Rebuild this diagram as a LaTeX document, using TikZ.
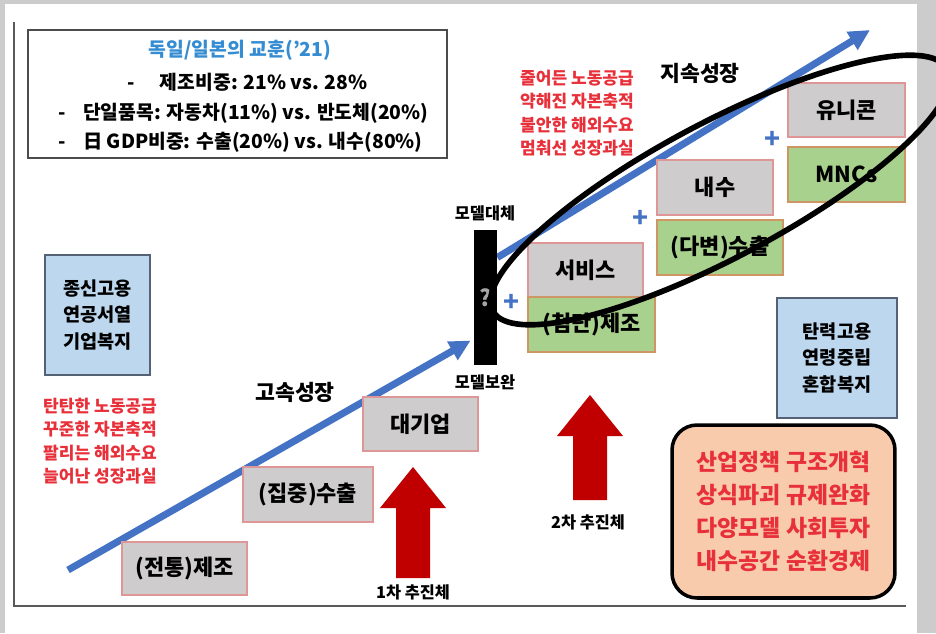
\documentclass[tikz,border=0pt]{standalone}
\usepackage{fontspec}
\setmainfont{Noto Sans CJK KR}
\usetikzlibrary{arrows.meta,calc}

\definecolor{growthblue}{RGB}{68,114,196}
\definecolor{boxgray}{RGB}{206,204,204}
\definecolor{boxpink}{RGB}{222,150,150}
\definecolor{boxgreen}{RGB}{169,209,142}
\definecolor{greenedge}{RGB}{205,150,100}
\definecolor{skyfill}{RGB}{189,215,238}
\definecolor{skyedge}{RGB}{85,98,118}
\definecolor{lessonred}{RGB}{232,48,58}
\definecolor{titleblue}{RGB}{52,140,210}
\definecolor{policyfill}{RGB}{248,203,173}
\definecolor{pushred}{RGB}{192,0,0}

\tikzset{
  stage/.style={draw=boxpink, line width=1.2pt, minimum width=2.3cm, minimum height=1.08cm,
    inner sep=0pt, font=\fontsize{12.5}{14}\selectfont\bfseries},
  graybox/.style={stage, fill=boxgray},
  greenbox/.style={stage, fill=boxgreen, draw=greenedge},
  welfare/.style={draw=skyedge, fill=skyfill, line width=1.2pt, minimum height=2.4cm,
    align=center, font=\fontsize{10.6}{15}\selectfont\bfseries},
  redlist/.style={text=lessonred, align=center, font=\fontsize{9.7}{13.4}\selectfont\bfseries},
  infoline/.style={font=\fontsize{11}{13}\selectfont\bfseries, inner sep=0pt},
  phase/.style={font=\fontsize{12.3}{14}\selectfont\bfseries},
  smalllbl/.style={font=\fontsize{9.3}{11}\selectfont\bfseries},
  plussign/.style={text=growthblue, font=\fontsize{15}{15}\selectfont\bfseries, inner sep=0pt},
  growth/.style={growthblue, line width=4pt, -{Triangle[length=0.42cm, width=0.4cm]}},
  loopline/.style={black, line width=3.2pt},
}

\def\pusharrow(#1,#2,#3){\fill[pushred] (#1,#2) -- (#1+33,#2+41) -- (#1+17,#2+41) -- (#1+17,#3) -- (#1-17,#3) -- (#1-17,#2+41) -- (#1-33,#2+41) -- cycle;}

\begin{document}
\begin{tikzpicture}[x=0.02cm, y=-0.02cm]
  \useasboundingbox (0,0) rectangle (936,633);

  % backdrop and frame
  \fill[gray!40] (0,0) rectangle (936,633);
  \fill[white] (5,4) rectangle (917,633);
  \draw[black!65, line width=1.2pt] (14,22) -- (14,606) -- (906,606);

  % lessons
  \node[draw=black!70, line width=1.2pt, minimum width=8.38cm, minimum height=2.56cm] (lesson) at (237.5,94) {};
  \node[infoline, text=titleblue] (ttl) at (240,50) {독일/일본의 교훈('21)};
  \node[infoline, anchor=west] (ln1) at (127,82) {-\hspace{1.3em}제조비중: 21\% vs. 28\%};
  \node[infoline, anchor=west] (ln2) at (58,113) {-\hspace{0.9em}단일품목: 자동차(11\%) vs. 반도체(20\%)};
  \node[infoline, anchor=west] (ln3) at (58,142) {-\hspace{0.9em}日 GDP비중: 수출(20\%) vs. 내수(80\%)};

  % welfare boxes and conditions
  \node[welfare, minimum width=2.1cm] (oldw) at (97.5,315) {종신고용\\연공서열\\기업복지};
  \node[welfare, minimum width=2.4cm] (neww) at (837,358) {탄력고용\\연령중립\\혼합복지};
  \node[redlist] (oldf) at (100,441) {탄탄한 노동공급\\꾸준한 자본축적\\팔리는 해외수요\\늘어난 성장과실};
  \node[redlist] (newf) at (577,113) {줄어든 노동공급\\약해진 자본축적\\불안한 해외수요\\멈춰선 성장과실};

  % growth paths
  \coordinate (hs) at (68,570);
  \coordinate (lt) at (870,30);
  \node[fill=black, minimum width=0.46cm, minimum height=2.7cm, inner sep=0pt] (bar) at (485.5,297.5) {};
  \draw[growth] (hs) -- ($(bar.west)+(-3,43)$);
  \draw[growth] ($(bar.east)+(0,-40)$) -- (lt);
  \node[fill=black, minimum width=0.46cm, minimum height=2.7cm, inner sep=0pt,
    text=gray!70, font=\fontsize{13}{13}\selectfont\bfseries] at (bar) {?};
  \node[smalllbl] (subst) at (485,213) {모델대체};
  \node[smalllbl] (suppl) at (485,382) {모델보완};
  \node[phase] (fast) at (295,392) {고속성장};
  \node[phase] (sust) at (700,73) {지속성장};

  % stages
  \node[graybox, minimum width=2.5cm, minimum height=1.06cm] (trad) at (184.5,568.5) {(전통)제조};
  \node[graybox, minimum width=2.6cm, minimum height=1.1cm] (focus) at (308,494.5) {(집중)수출};
  \node[graybox] (chaebol) at (420.5,424) {대기업};
  \node[graybox] (svc) at (585.5,270) {서비스};
  \node[greenbox, minimum width=2.54cm, minimum height=1.1cm] (hitech) at (591.5,324.5) {(첨단)제조};
  \node[graybox, minimum width=2.32cm, minimum height=1.1cm] (dom) at (715,187.5) {내수};
  \node[greenbox, minimum width=2.52cm, minimum height=1.1cm] (divexp) at (720,247.5) {(다변)수출};
  \node[graybox, minimum width=2.34cm] (unicorn) at (846.5,110) {유니콘};
  \node[greenbox, minimum width=2.34cm, minimum height=1.1cm] (mnc) at (846.5,174.5) {MNCs};
  \node[plussign] (pl1) at (512,303) {+};
  \node[plussign] (pl2) at (641,219) {+};
  \node[plussign] (pl3) at (773,140) {+};

  % engines
  \pusharrow(413,467,578)
  \pusharrow(590,395,500)
  \node[smalllbl] (push1) at (413,592) {1차 추진체};
  \node[smalllbl] (push2) at (588,522) {2차 추진체};

  % policy
  \node[draw=black, line width=2pt, fill=policyfill, rounded corners=0.5cm,
    minimum width=4.46cm, minimum height=3.46cm, align=center, text=lessonred,
    font=\fontsize{13}{18.7}\selectfont\bfseries] (policy) at (783.5,511.5)
    {산업정책 구조개혁\\상식파괴 규제완화\\다양모델 사회투자\\내수공간 순환경제};

  % focus ring
  \draw[loopline, shift={(720,190)}, rotate=28] (0,0) ellipse [x radius=5.15cm, y radius=1.35cm];
\end{tikzpicture}
\end{document}
